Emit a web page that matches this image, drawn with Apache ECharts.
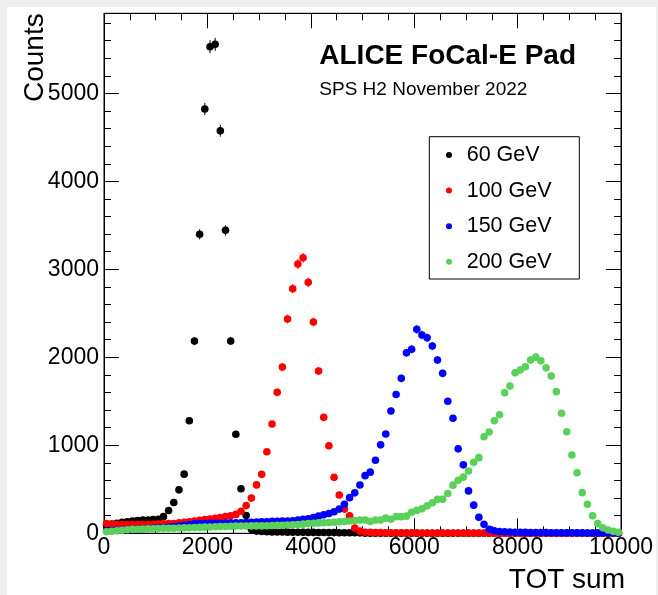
<!DOCTYPE html>
<html><head><meta charset="utf-8">
<script src="https://cdn.jsdelivr.net/npm/echarts@6/dist/echarts.min.js"></script>
<style>
html,body{margin:0;padding:0;background:#efefef;width:658px;height:595px;overflow:hidden}
#c{position:absolute;left:7px;top:7px;width:649px;height:588px;background:#ffffff}
</style></head><body><div id="c"></div>
<script>
// TOT sum bin centers
const binCenters = [
  50,150,250,350,450,550,650,750,850,950,
  1050,1150,1250,1350,1450,1550,1650,1750,1850,1950,
  2050,2150,2250,2350,2450,2550,2650,2750,2850,2950,
  3050,3150,3250,3350,3450,3550,3650,3750,3850,3950,
  4050,4150,4250,4350,4450,4550,4650,4750,4850,4950,
  5050,5150,5250,5350,5450,5550,5650,5750,5850,5950,
  6050,6150,6250,6350,6450,6550,6650,6750,6850,6950,
  7050,7150,7250,7350,7450,7550,7650,7750,7850,7950,
  8050,8150,8250,8350,8450,8550,8650,8750,8850,8950,
  9050,9150,9250,9350,9450,9550,9650,9750,9850,9950
];
const counts60GeV = [
  90,105,115,125,130,140,145,150,150,155,
  160,189,259,350,494,672,1280,2185,3398,4822,
  5530,5557,4575,3443,2185,1125,507,203,45,25,
  20,18,16,15,14,13,12,12,11,10,
  10,9,9,8,8,7,7,6,6,5,
  0,0,0,0,0,0,0,0,0,0,
  0,0,0,0,0,0,0,0,0,0,
  0,0,0,0,0,0,0,0,0,0,
  0,0,0,0,0,0,0,0,0,0,
  0,0,0,0,0,0,0,0,0,0
];
const counts100GeV = [
  110,105,100,100,100,100,100,100,100,102,
  105,108,110,112,118,125,132,140,148,155,
  162,170,180,190,200,215,250,315,400,550,
  670,927,1242,1602,1889,2435,2780,3060,3132,2852,
  2401,1844,1318,995,636,435,275,200,60,25,
  12,10,8,8,7,7,6,6,5,5,
  5,4,4,4,3,3,3,3,2,2,
  2,2,2,2,1,1,1,1,1,1,
  0,0,0,0,0,0,0,0,0,0,
  0,0,0,0,0,0,0,0,0,0
];
const counts150GeV = [
  25,30,35,38,42,45,48,50,55,58,
  62,66,70,76,82,90,100,108,112,112,
  113,114,115,116,118,118,120,122,125,128,
  130,132,135,135,138,140,142,150,158,165,
  180,195,210,225,245,275,330,405,460,549,
  655,695,830,1005,1128,1390,1578,1761,2052,2091,
  2318,2253,2223,2128,1969,1818,1500,1307,960,778,
  482,320,182,102,45,28,20,16,14,12,
  11,10,9,9,8,8,7,7,6,6,
  5,5,5,4,4,4,3,3,3,2
];
const counts200GeV = [
  18,22,28,35,40,45,46,48,50,52,
  55,56,57,58,60,62,63,65,67,70,
  72,74,76,78,80,82,82,83,84,84,
  84,86,88,90,92,94,96,100,104,110,
  115,118,120,122,126,130,135,140,145,150,
  151,135,151,150,172,159,189,189,195,238,
  260,278,312,348,386,386,452,547,602,638,
  708,808,860,1098,1151,1280,1348,1598,1674,1825,
  1856,1893,1969,2002,1961,1882,1788,1610,1364,1155,
  890,689,462,330,200,110,62,38,22,12
];
const seriesNames = ['60 GeV','100 GeV','150 GeV','200 GeV'];
const seriesValues = [counts60GeV, counts100GeV, counts150GeV, counts200GeV];
const seriesColors = ['#000000','#ff0000','#0000ff','#5ad15a'];
const xTickValues = [0,2000,4000,6000,8000,10000];
const yTickValues = [0,1000,2000,3000,4000,5000];
const yMinorTickValues = [200,400,600,800,1200,1400,1600,1800,2200,2400,2600,2800,
  3200,3400,3600,3800,4200,4400,4600,4800,5200,5400,5600,5800];
const xRange = [0, 10000];
const yRange = [0, 5910];

const FONT = "'Liberation Sans', Arial, Helvetica, sans-serif";
const chart = echarts.init(document.getElementById('c'), null, {renderer:'canvas'});

function makeYAxis(pos, major) {
  return {
    type:'value', min:yRange[0], max:yRange[1], position:pos,
    axisLine:{show: major, lineStyle:{color:'#000', width:1}},
    axisTick:{show:true, inside:true, length: major ? 15 : 7,
      customValues: major ? yTickValues : yMinorTickValues,
      lineStyle:{color:'#000', width:1}},
    axisLabel:{show: major && pos==='left', customValues: yTickValues,
      fontSize:23, fontFamily:FONT, color:'#000', margin:5,
      formatter: v => String(v)},
    splitLine:{show:false}
  };
}
function makeXAxis(pos) {
  return {
    type:'value', min:xRange[0], max:xRange[1], interval:2000, position:pos,
    axisLine:{show:true, onZero:false, lineStyle:{color:'#000', width:1}},
    axisTick:{show:true, inside:true, length:15, lineStyle:{color:'#000', width:1}},
    minorTick:{show:true, splitNumber:4, length:7, lineStyle:{color:'#000', width:1}},
    axisLabel:{show: pos==='bottom', fontSize:23, fontFamily:FONT, color:'#000', margin:3,
      formatter: v => xTickValues.indexOf(v) >= 0 ? String(v) : ''},
    splitLine:{show:false}, minorSplitLine:{show:false}
  };
}

const series = [];
seriesValues.forEach((vals, i) => {
  const data = binCenters.map((x, k) => [x, vals[k]]);
  const color = seriesColors[i];
  series.push({
    type:'custom', name: seriesNames[i] + ' err', xAxisIndex:0, yAxisIndex:0,
    data: data, encode:{x:0, y:1}, silent:true,
    renderItem: (params, api) => {
      const x = api.value(0), y = api.value(1);
      const e = Math.sqrt(Math.max(y, 0));
      const p1 = api.coord([x, y - e]);
      const p2 = api.coord([x, y + e]);
      return {type:'line', shape:{x1:p1[0], y1:p1[1], x2:p2[0], y2:p2[1]},
        style:{stroke:color, lineWidth:1}};
    }
  });
  series.push({
    type:'scatter', name: seriesNames[i], xAxisIndex:0, yAxisIndex:0,
    data: data, symbol:'circle', symbolSize:7.6, clip:false,
    itemStyle:{color: color, opacity:1}
  });
});

chart.setOption({
  animation:false,
  backgroundColor:'#ffffff',
  grid:{left:97, top:6.3, width:520, height:520, show:true, borderColor:'#000', borderWidth:1,
    backgroundColor:'transparent', containLabel:false},
  xAxis:[makeXAxis('bottom'), makeXAxis('top')],
  yAxis:[makeYAxis('left', true), makeYAxis('left', false), makeYAxis('right', true), makeYAxis('right', false)],
  legend:{
    orient:'vertical', left:439, top:136, padding:0, itemGap:11.6,
    itemWidth:6, itemHeight:6,
    textStyle:{fontSize:21.5, fontFamily:FONT, color:'#000', lineHeight:24, padding:[0,0,0,9.7]},
    data: seriesNames.map(n => ({name:n, icon:'circle'}))
  },
  graphic:[
    {type:'rect', shape:{x:422.3, y:129.7, width:150, height:142.3},
      style:{fill:'none', stroke:'#000', lineWidth:1}, z:10},
    {type:'text', x:312.3, y:49.2, style:{text:'ALICE FoCal-E Pad', font:"bold 28px " + FONT,
      fill:'#000', textAlign:'left', textVerticalAlign:'middle'}, z:10},
    {type:'text', x:312.3, y:82.3, style:{text:'SPS H2 November 2022', font:"19px " + FONT,
      fill:'#000', textAlign:'left', textVerticalAlign:'middle'}, z:10},
    {type:'text', x:28, y:6.3, rotation:Math.PI/2, style:{text:'Counts', font:"28px " + FONT,
      fill:'#000', textAlign:'right', textVerticalAlign:'middle'}, z:10},
    {type:'text', x:618, y:573, style:{text:'TOT sum', font:"28px " + FONT,
      fill:'#000', textAlign:'right', textVerticalAlign:'middle'}, z:10}
  ],
  series: series
});
</script></body></html>
